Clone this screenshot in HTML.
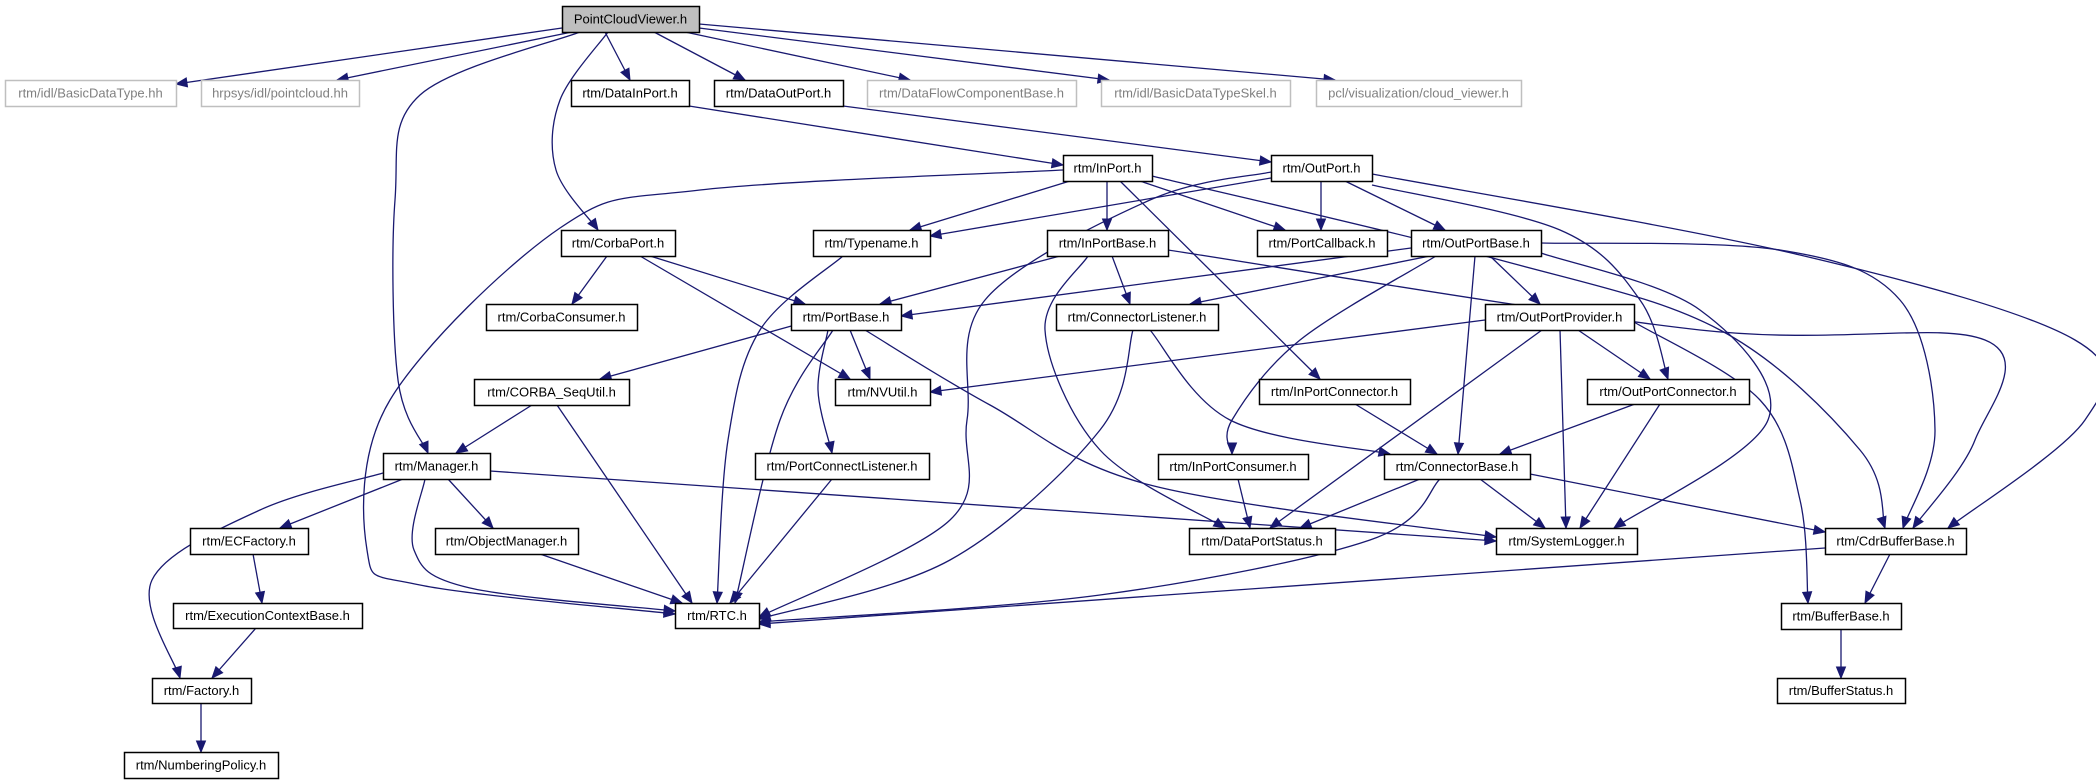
<!DOCTYPE html>
<html><head><meta charset="utf-8"><style>
html,body{margin:0;padding:0;background:#fff;}
svg{display:block;}
text{font-family:"Liberation Sans",sans-serif;font-size:13px;}
</style></head><body>
<svg id="g" width="2096" height="784" xmlns="http://www.w3.org/2000/svg"></svg>
<script>
const N={
PCV:[562,699,6,32,"PointCloudViewer.h",2],
BDT:[5,176,80,106,"rtm/idl/BasicDataType.hh",1],
PC:[201,359,80,106,"hrpsys/idl/pointcloud.hh",1],
DIP:[571,689,80,106,"rtm/DataInPort.h"],
DOP:[714,843,80,106,"rtm/DataOutPort.h"],
DFCB:[867,1076,80,106,"rtm/DataFlowComponentBase.h",1],
BDTS:[1101,1290,80,106,"rtm/idl/BasicDataTypeSkel.h",1],
CV:[1316,1521,80,106,"pcl/visualization/cloud_viewer.h",1],
IP:[1063,1152,155,181,"rtm/InPort.h"],
OP:[1271,1372,155,181,"rtm/OutPort.h"],
CP:[561,675,230,256,"rtm/CorbaPort.h"],
TN:[813,930,230,256,"rtm/Typename.h"],
IPB:[1047,1168,230,256,"rtm/InPortBase.h"],
PCB:[1257,1387,230,256,"rtm/PortCallback.h"],
OPB:[1411,1541,230,256,"rtm/OutPortBase.h"],
CC:[486,637,304,330,"rtm/CorbaConsumer.h"],
PB:[791,901,304,330,"rtm/PortBase.h"],
CL:[1056,1218,304,330,"rtm/ConnectorListener.h"],
OPP:[1485,1634,304,330,"rtm/OutPortProvider.h"],
CSU:[474,629,379,405,"rtm/CORBA_SeqUtil.h"],
NV:[835,930,379,405,"rtm/NVUtil.h"],
IPC:[1259,1410,379,404,"rtm/InPortConnector.h"],
OPC:[1587,1749,379,404,"rtm/OutPortConnector.h"],
MG:[383,490,453,479,"rtm/Manager.h"],
PCL:[755,929,453,479,"rtm/PortConnectListener.h"],
IPCo:[1158,1308,454,479,"rtm/InPortConsumer.h"],
CB:[1384,1530,454,479,"rtm/ConnectorBase.h"],
ECF:[190,308,528,554,"rtm/ECFactory.h"],
OM:[435,578,528,554,"rtm/ObjectManager.h"],
DPS:[1189,1335,528,554,"rtm/DataPortStatus.h"],
SL:[1496,1637,528,554,"rtm/SystemLogger.h"],
CBB:[1825,1966,528,554,"rtm/CdrBufferBase.h"],
ECB:[173,362,603,628,"rtm/ExecutionContextBase.h"],
RTC:[675,759,603,628,"rtm/RTC.h"],
BB:[1781,1901,603,629,"rtm/BufferBase.h"],
FA:[152,251,678,703,"rtm/Factory.h"],
BS:[1777,1905,678,703,"rtm/BufferStatus.h"],
NP:[124,278,752,778,"rtm/NumberingPolicy.h"]
};
const E=[
[[562,28],[176,84]],[[572,32],[337,80]],[[605,32],[630,80]],[[654,32],[745,80]],[[685,32],[910,80]],
[[699,28],[1109,80]],[[699,24],[1335,80]],
[[608,32],[560,100],[556,170],[598,230]],
[[580,32],[420,95],[395,200],[398,380],[428,453]],
[[689,106],[1063,165]],[[843,106],[1271,162]],
[[1063,170],[700,190],[560,228],[390,400],[367,550],[420,585],[675,614]],
[[1271,172],[1150,200],[985,300],[967,420],[950,520],[759,617]],
[[843,256],[760,330],[728,440],[717,603]],
[[1271,178],[930,236]],[[1070,181],[910,230]],[[1107,181],[1107,230]],[[1140,181],[1285,230]],[[1120,181],[1320,379]],
[[1152,176],[1500,260],[1720,330],[1860,450],[1885,528]],
[[1372,174],[1800,255],[2075,340],[2085,420],[1948,528]],
[[1541,243],[1780,250],[1900,300],[1935,430],[1903,528]],
[[1168,250],[1700,330],[1985,340],[1975,440],[1913,528]],
[[1372,185],[1560,230],[1640,300],[1668,379]],
[[1321,181],[1321,230]],[[1345,181],[1445,230]],
[[1541,253],[1700,310],[1768,420],[1614,528]],
[[1436,256],[1300,340],[1232,420],[1232,454]],
[[1088,256],[1045,330],[1100,450],[1225,528]],
[[1634,322],[1760,400],[1800,500],[1808,603]],
[[1542,330],[1270,528]],
[[383,473],[260,510],[152,580],[180,678]],
[[425,479],[414,550],[470,588],[675,611]],
[[1133,330],[1100,430],[950,560],[759,619]],
[[1440,479],[1370,540],[1100,595],[759,622]],
[[1825,548],[759,624]],
[[833,330],[780,420],[735,603]],
[[557,405],[692,603]],[[540,554],[682,603]],[[832,479],[730,603]],
[[828,330],[818,390],[832,453]],
[[865,330],[990,405],[1150,485],[1496,537]],
[[490,471],[1496,541]],
[[1480,479],[1545,528]],[[1560,330],[1566,528]],[[1660,404],[1580,528]],
[[1420,479],[1300,528]],[[1238,479],[1250,528]],[[1530,474],[1825,532]],
[[1475,256],[1458,454]],[[1490,256],[1540,304]],[[1430,256],[1190,304]],
[[1411,248],[901,316]],[[1060,256],[880,304]],[[1112,256],[1130,304]],
[[607,256],[572,304]],[[650,256],[805,304]],[[640,256],[850,379]],
[[795,325],[600,379]],[[850,330],[870,379]],
[[1485,320],[930,392]],[[1578,330],[1650,379]],
[[1150,330],[1230,420],[1390,454]],
[[1355,404],[1437,454]],[[1635,404],[1500,454]],
[[532,405],[456,453]],[[403,479],[280,528]],[[448,479],[493,528]],
[[253,554],[262,603]],[[256,628],[212,678]],[[201,703],[201,752]],
[[1890,554],[1865,603]],[[1841,629],[1841,678]]
];
const C="#191970";let s="";
for(const e of E){
 let d="M"+e[0][0]+","+e[0][1];
 if(e.length==2){d+=" L"+e[1][0]+","+e[1][1];}
 else{
  const p=[e[0]].concat(e,[e[e.length-1]]);
  for(let i=1;i<p.length-2;i++){
   const a=p[i-1],b=p[i],c=p[i+1],q=p[i+2];
   const c1=[b[0]+(c[0]-a[0])/6,b[1]+(c[1]-a[1])/6],c2=[c[0]-(q[0]-b[0])/6,c[1]-(q[1]-b[1])/6];
   d+=` C${c1[0]},${c1[1]} ${c2[0]},${c2[1]} ${c[0]},${c[1]}`;
  }
 }
 const t=e[e.length-1],f=e[e.length-2];
 let dx=t[0]-f[0],dy=t[1]-f[1],L=Math.hypot(dx,dy);dx/=L;dy/=L;
 const bx=t[0]-dx*11,by=t[1]-dy*11;
 s+=`<path d="${d}" fill="none" stroke="${C}" stroke-width="1.3"/>`;
 s+=`<polygon points="${t[0]},${t[1]} ${bx-dy*4.5},${by+dx*4.5} ${bx+dy*4.5},${by-dx*4.5}" fill="${C}" stroke="${C}"/>`;
}
for(const k in N){
 const [x1,x2,y1,y2,l,g]=N[k];
 const fill=g==2?"#bfbfbf":"#fff",st=g==1?"#bfbfbf":"#000",tc=g==1?"#808080":"#000";
 s+=`<rect x="${x1+0.5}" y="${y1+0.5}" width="${x2-x1}" height="${y2-y1}" fill="${fill}" stroke="${st}" stroke-width="1.5"/>`;
 s+=`<text x="${(x1+x2)/2}" y="${(y1+y2)/2+4.5}" text-anchor="middle" fill="${tc}">${l}</text>`;
}
document.getElementById("g").innerHTML=s;
</script>
</body></html>
